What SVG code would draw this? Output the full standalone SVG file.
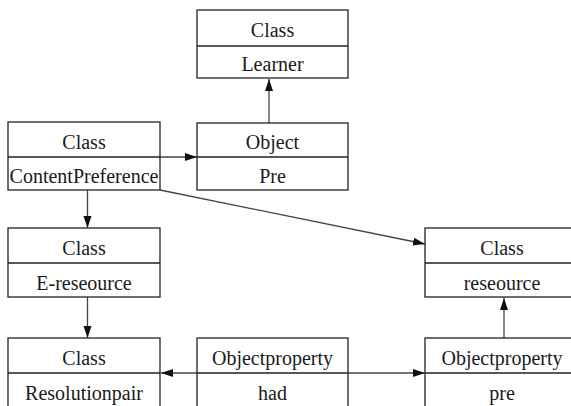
<svg xmlns="http://www.w3.org/2000/svg" width="571" height="406" viewBox="0 0 571 406">
<style>
.box{fill:#fff;stroke:#222;stroke-width:1.3}
.div{stroke:#222;stroke-width:1.3}
.t{font-family:'Liberation Serif','DejaVu Serif',serif;font-size:20px;fill:#1a1a1a;text-anchor:middle}
.c{stroke:#444;stroke-width:1.3;fill:none;marker-end:url(#ah)}
</style>
<defs>
<marker id="ah" markerUnits="userSpaceOnUse" markerWidth="13" markerHeight="9" refX="12" refY="4" orient="auto">
<path d="M0,0 L12,4 L0,8 z" fill="#111"/>
</marker>
</defs>
<rect width="571" height="406" fill="#fff"/>
<g id="connectors">
<line class="c" x1="269" y1="123" x2="269" y2="79"/>
<line class="c" x1="160" y1="157" x2="197" y2="157"/>
<line class="c" x1="160" y1="190" x2="425" y2="244"/>
<line class="c" x1="87.5" y1="190" x2="87.5" y2="228"/>
<line class="c" x1="87.5" y1="297" x2="87.5" y2="338"/>
<line class="c" x1="197" y1="373" x2="161" y2="373"/>
<line class="c" x1="348" y1="373" x2="425" y2="373"/>
<line class="c" x1="504" y1="338" x2="504" y2="298"/>
</g>
<g id="learner">
<rect class="box" x="197" y="10" width="151" height="68"/>
<line class="div" x1="197" y1="46" x2="348" y2="46"/>
<text class="t" x="272.5" y="37">Class</text>
<text class="t" x="272.5" y="71">Learner</text>
</g>
<g id="object-pre">
<rect class="box" x="197" y="123" width="151" height="67"/>
<line class="div" x1="197" y1="157" x2="348" y2="157"/>
<text class="t" x="272.5" y="149">Object</text>
<text class="t" x="272.5" y="183">Pre</text>
</g>
<g id="content-preference">
<rect class="box" x="8" y="122" width="152" height="68"/>
<line class="div" x1="8" y1="157" x2="160" y2="157"/>
<text class="t" x="84" y="149">Class</text>
<text class="t" x="84" y="183">ContentPreference</text>
</g>
<g id="e-reseource">
<rect class="box" x="8" y="228" width="152" height="69"/>
<line class="div" x1="8" y1="263" x2="160" y2="263"/>
<text class="t" x="84" y="255">Class</text>
<text class="t" x="84" y="290">E-reseource</text>
</g>
<g id="reseource">
<rect class="box" x="425" y="228" width="152" height="69"/>
<line class="div" x1="425" y1="263" x2="577" y2="263"/>
<text class="t" x="502" y="255">Class</text>
<text class="t" x="502" y="290">reseource</text>
</g>
<g id="resolutionpair">
<rect class="box" x="8" y="338" width="152" height="80"/>
<line class="div" x1="8" y1="373" x2="160" y2="373"/>
<text class="t" x="84" y="365">Class</text>
<text class="t" x="84" y="400">Resolutionpair</text>
</g>
<g id="objectproperty-had">
<rect class="box" x="197" y="338" width="151" height="80"/>
<line class="div" x1="197" y1="373" x2="348" y2="373"/>
<text class="t" x="272.5" y="365">Objectproperty</text>
<text class="t" x="272.5" y="400">had</text>
</g>
<g id="objectproperty-pre">
<rect class="box" x="425" y="338" width="152" height="80"/>
<line class="div" x1="425" y1="373" x2="577" y2="373"/>
<text class="t" x="502" y="365">Objectproperty</text>
<text class="t" x="502" y="400">pre</text>
</g>
</svg>
